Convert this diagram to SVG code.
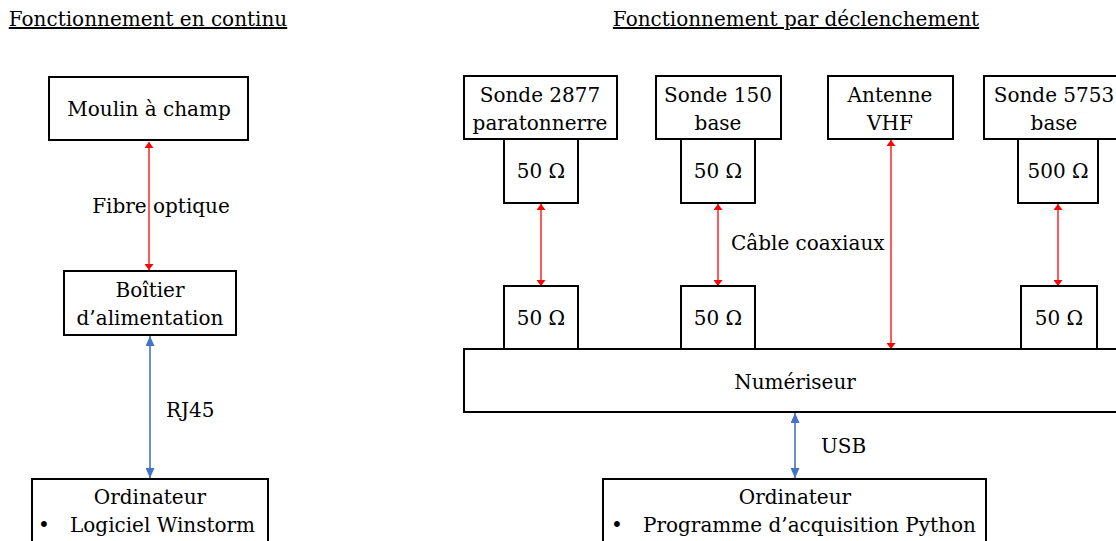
<svg xmlns="http://www.w3.org/2000/svg" width="1116" height="541" viewBox="0 0 1116 541">
<defs>
<style>
text{font-family:"DejaVu Serif","Liberation Serif",serif;font-size:20px;fill:#000;text-anchor:middle}
.box{fill:#fff;stroke:#000;stroke-width:2}
.red{stroke:#ff0000;stroke-width:1.3;fill:none}
.blue{stroke:#4472c4;stroke-width:1.6;fill:none}
.lbl{text-anchor:start}
</style>
<marker id="rh" viewBox="0 0 10 10" refX="10" refY="5" markerWidth="6" markerHeight="9" markerUnits="userSpaceOnUse" orient="auto-start-reverse" preserveAspectRatio="none"><path d="M0,0 L10,5 L0,10 z" fill="#ff0000"/></marker>
<marker id="bh" viewBox="0 0 10 10" refX="10" refY="5" markerWidth="10" markerHeight="9" markerUnits="userSpaceOnUse" orient="auto-start-reverse" preserveAspectRatio="none"><path d="M0,0 L10,5 L0,10 z" fill="#4472c4"/></marker>
</defs>
<rect width="1116" height="541" fill="#fff"/>
<g id="titles">
<text x="148" y="26" text-decoration="underline">Fonctionnement en continu</text>
<text x="796" y="26" text-decoration="underline">Fonctionnement par déclenchement</text>
</g>
<g id="connectors">
<line class="red" x1="149" y1="142" x2="149" y2="270" marker-start="url(#rh)" marker-end="url(#rh)"/>
<line class="blue" x1="150" y1="336" x2="150" y2="478" marker-start="url(#bh)" marker-end="url(#bh)"/>
<line class="red" x1="541" y1="204" x2="541" y2="286" marker-start="url(#rh)" marker-end="url(#rh)"/>
<line class="red" x1="718" y1="204" x2="718" y2="286" marker-start="url(#rh)" marker-end="url(#rh)"/>
<line class="red" x1="891" y1="140" x2="891" y2="349" marker-start="url(#rh)" marker-end="url(#rh)"/>
<line class="red" x1="1058" y1="204" x2="1058" y2="286" marker-start="url(#rh)" marker-end="url(#rh)"/>
<line class="blue" x1="795" y1="413" x2="795" y2="478" marker-start="url(#bh)" marker-end="url(#bh)"/>
<text x="161" y="213">Fibre optique</text>
<text class="lbl" x="166" y="417">RJ45</text>
<text class="lbl" x="731" y="250">Câble coaxiaux</text>
<text class="lbl" x="821" y="453">USB</text>
</g>
<g id="moulin"><rect class="box" x="49" y="77" width="199" height="63"/><text x="149" y="116">Moulin à champ</text></g>
<g id="boitier"><rect class="box" x="64" y="271" width="172" height="64"/><text x="150" y="297">Boîtier</text><text x="150" y="325">d’alimentation</text></g>
<g id="ordi1"><rect class="box" x="32" y="479" width="236" height="70"/><text x="150" y="504">Ordinateur</text><text x="44" y="532">•</text><text class="lbl" x="70" y="532">Logiciel Winstorm</text></g>
<g id="sonde2877"><rect class="box" x="464" y="76" width="153" height="63"/><text x="540" y="102">Sonde 2877</text><text x="540" y="130">paratonnerre</text></g>
<g id="r2877a"><rect class="box" x="504" y="139" width="74" height="64"/><text x="541" y="178">50 Ω</text></g>
<g id="r2877b"><rect class="box" x="504" y="286" width="74" height="64"/><text x="541" y="325">50 Ω</text></g>
<g id="sonde150"><rect class="box" x="656" y="76" width="125" height="63"/><text x="718" y="102">Sonde 150</text><text x="718" y="130">base</text></g>
<g id="r150a"><rect class="box" x="681" y="139" width="74" height="64"/><text x="718" y="178">50 Ω</text></g>
<g id="r150b"><rect class="box" x="681" y="286" width="74" height="64"/><text x="718" y="325">50 Ω</text></g>
<g id="antenne"><rect class="box" x="828" y="76" width="125" height="63"/><text x="890" y="102">Antenne</text><text x="890" y="130">VHF</text></g>
<g id="sonde5753"><rect class="box" x="984" y="76" width="140" height="63"/><text x="1054" y="102">Sonde 5753</text><text x="1054" y="130">base</text></g>
<g id="r5753a"><rect class="box" x="1018" y="139" width="80" height="64"/><text x="1058" y="178">500 Ω</text></g>
<g id="r5753b"><rect class="box" x="1021" y="286" width="76" height="64"/><text x="1059" y="325">50 Ω</text></g>
<g id="numeriseur"><rect class="box" x="464" y="349" width="660" height="63"/><text x="795" y="389">Numériseur</text></g>
<g id="ordi2"><rect class="box" x="603" y="479" width="383" height="70"/><text x="795" y="504">Ordinateur</text><text x="617" y="532">•</text><text class="lbl" x="643" y="532">Programme d’acquisition Python</text></g>
</svg>
